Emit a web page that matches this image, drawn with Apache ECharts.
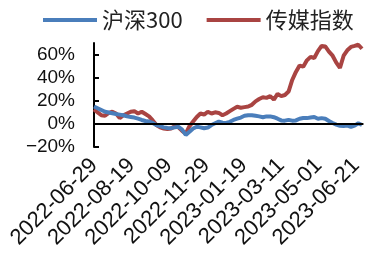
<!DOCTYPE html>
<html>
<head>
<meta charset="utf-8">
<script src="https://cdn.jsdelivr.net/npm/echarts@6/dist/echarts.min.js"></script>
<style>
html,body{margin:0;padding:0;background:#fff;}
#chart{width:366px;height:264px;}
</style>
</head>
<body>
<div id="chart"></div>
<script>
// Dates (every 5 calendar days) of the sampled points
var dates = [
'2022-06-29','2022-07-04','2022-07-09','2022-07-14','2022-07-19','2022-07-24','2022-07-29','2022-08-03','2022-08-08','2022-08-13',
'2022-08-18','2022-08-23','2022-08-28','2022-09-02','2022-09-07','2022-09-12','2022-09-17','2022-09-22','2022-09-27','2022-10-02',
'2022-10-07','2022-10-12','2022-10-17','2022-10-22','2022-10-27','2022-11-01','2022-11-06','2022-11-11','2022-11-16','2022-11-21',
'2022-11-26','2022-12-01','2022-12-06','2022-12-11','2022-12-16','2022-12-21','2022-12-26','2022-12-31','2023-01-05','2023-01-10',
'2023-01-15','2023-01-20','2023-01-25','2023-01-30','2023-02-04','2023-02-09','2023-02-14','2023-02-19','2023-02-24','2023-03-01',
'2023-03-06','2023-03-11','2023-03-16','2023-03-21','2023-03-26','2023-03-31','2023-04-05','2023-04-10','2023-04-15','2023-04-20',
'2023-04-25','2023-04-30','2023-05-05','2023-05-10','2023-05-15','2023-05-20','2023-05-25','2023-05-30','2023-06-04','2023-06-09',
'2023-06-14','2023-06-19','2023-06-24','2023-06-29'
];
// 沪深300 cumulative return (%)
var hs300 = [
15,13.5,12,10.5,9.8,9.2,8.5,8,7.5,6.5,
6,5.5,4.5,3.4,2.5,2,0.8,-1,-2,-3,
-3.5,-3.7,-3,-2.5,-5,-9.5,-6.8,-4,-2.5,-3,
-3.8,-3.2,-1,0.5,2,1,0.8,1.8,3.4,4.5,
5.5,7,7.5,7.5,7,6.5,5.8,6.5,6.5,5.8,
4.5,3,2.8,3.5,2.8,3,4.5,5.1,5,5.5,
6,4.5,5,4.5,2.5,0.8,-0.6,-1.6,-1.8,-1.5,
-2.5,-1.5,0.5,-1
];
// 传媒指数 cumulative return (%)
var media = [
12.5,10,7.5,7,9.5,10.5,9,5,7.5,9,
10.5,11,9,10.5,8.5,6.5,3,-1,-3,-4,
-4.5,-4,-2,-3,-6,-8.5,-2,2,6,9,
8,10.5,9,10,9.5,7.5,9,11,13,14.8,
14,14.5,15,16.5,19.5,21.5,23,22.5,24,21,
26,24,25,28,38,45,50.5,49.5,55,58,
57,63,67.5,67,62.5,59,53,48.5,59,63.7,
66.6,67.5,68.5,65
];
var seriesNames = ['沪深300', '传媒指数'];
var xTickLabels = ['2022-06-29','2022-08-19','2022-10-09','2022-11-29','2023-01-19','2023-03-11','2023-05-01','2023-06-21'];
var yTickValues = [-20, 0, 20, 40, 60];
var startDate = '2022-06-29';
var endDate = '2023-07-01';

var DAY = 86400000;
var base = Date.parse(startDate);
function dayOf(s) { return Math.round((Date.parse(s) - base) / DAY); }
function dateOf(n) { return new Date(base + n * DAY).toISOString().slice(0, 10); }
function pairs(vals) { return dates.map(function (d, i) { return [dayOf(d), vals[i]]; }); }

var chart = echarts.init(document.getElementById('chart'), null, {renderer: 'canvas'});
chart.setOption({
  animation: false,
  backgroundColor: '#fff',
  legend: {
    data: seriesNames,
    top: 4,
    left: 38,
    icon: 'rect',
    itemWidth: 54,
    itemHeight: 4,
    itemGap: 24,
    textStyle: {fontSize: 22, color: '#222', fontFamily: 'Noto Sans CJK SC'}
  },
  grid: {left: 94, right: 0, top: 43, bottom: 117, containLabel: false},
  xAxis: {
    type: 'value',
    min: 0,
    max: dayOf(endDate),
    axisLine: {show: false},
    axisTick: {show: false},
    splitLine: {show: false},
    axisLabel: {
      customValues: xTickLabels.map(dayOf),
      rotate: 45,
      margin: 15,
      fontSize: 22,
      color: '#111',
      fontFamily: 'Liberation Sans',
      formatter: function (v) { return dateOf(v); }
    }
  },
  yAxis: {
    type: 'value',
    min: -20,
    max: 70,
    interval: 20,
    axisLine: {show: true, lineStyle: {color: '#000', width: 2}},
    axisTick: {show: true, inside: true, length: 5, customValues: yTickValues, lineStyle: {color: '#000', width: 2}},
    splitLine: {show: false},
    axisLabel: {
      customValues: yTickValues,
      margin: 19,
      fontSize: 19,
      color: '#111',
      fontFamily: 'Liberation Sans',
      formatter: function (v) { return (v < 0 ? '\u2212' + Math.abs(v) : v) + '%'; }
    }
  },
  series: [
    {
      name: 'zero', type: 'line', data: [], z: 1, silent: true,
      markLine: {
        silent: true, symbol: ['none', 'none'], label: {show: false},
        lineStyle: {color: '#000', width: 2, type: 'solid'},
        data: [{yAxis: 0}]
      }
    },
    {
      name: seriesNames[0], type: 'line', data: pairs(hs300), z: 3,
      showSymbol: false, symbol: 'none',
      lineStyle: {color: '#4A7EBB', width: 4},
      itemStyle: {color: '#4A7EBB'}
    },
    {
      name: seriesNames[1], type: 'line', data: pairs(media), z: 2,
      showSymbol: false, symbol: 'none',
      lineStyle: {color: '#A94442', width: 4},
      itemStyle: {color: '#A94442'}
    }
  ]
});
</script>
</body>
</html>
